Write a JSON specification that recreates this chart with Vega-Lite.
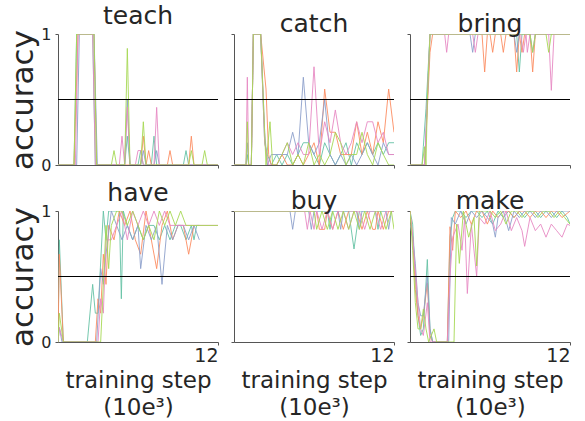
{
"$schema":"https://vega.github.io/schema/vega-lite/v6.json",
"padding":{"left":7,"top":4,"right":0,"bottom":0},
"config":{"view":{"stroke":null},"font":"DejaVu Sans",
"title":{"fontSize":25,"fontWeight":"normal","color":"#262626","offset":-3,"baseline":"alphabetic","frame":"group","font":"DejaVu Sans"},
"axis":{"grid":false,"domainColor":"#555","tickColor":"#555","labelColor":"#262626","titleColor":"#262626","tickSize":3,"titleFontWeight":"normal","labelFont":"DejaVu Sans","titleFont":"DejaVu Sans"}},
"data":{"values":[
{"p":"teach","s":"a","x":0,"y":0},{"p":"teach","s":"a","x":1.2,"y":0},{"p":"teach","s":"a","x":1.4,"y":1},{"p":"teach","s":"a","x":2.6,"y":1},{"p":"teach","s":"a","x":2.8,"y":0},{"p":"teach","s":"a","x":5,"y":0},{"p":"teach","s":"a","x":5.2,"y":0.22},{"p":"teach","s":"a","x":5.4,"y":0},{"p":"teach","s":"a","x":6,"y":0},{"p":"teach","s":"a","x":6.2,"y":0.11},{"p":"teach","s":"a","x":6.4,"y":0},{"p":"teach","s":"a","x":7,"y":0},{"p":"teach","s":"a","x":7.2,"y":0.22},{"p":"teach","s":"a","x":7.4,"y":0},{"p":"teach","s":"a","x":9.4,"y":0},{"p":"teach","s":"a","x":9.6,"y":0.11},{"p":"teach","s":"a","x":9.8,"y":0},{"p":"teach","s":"a","x":12,"y":0},
{"p":"teach","s":"b","x":0,"y":0},{"p":"teach","s":"b","x":1.2,"y":0},{"p":"teach","s":"b","x":1.5,"y":1},{"p":"teach","s":"b","x":2.7,"y":1},{"p":"teach","s":"b","x":2.9,"y":0},{"p":"teach","s":"b","x":6.2,"y":0},{"p":"teach","s":"b","x":6.4,"y":0.22},{"p":"teach","s":"b","x":6.6,"y":0},{"p":"teach","s":"b","x":6.8,"y":0.11},{"p":"teach","s":"b","x":7,"y":0},{"p":"teach","s":"b","x":8.2,"y":0},{"p":"teach","s":"b","x":8.4,"y":0.11},{"p":"teach","s":"b","x":8.6,"y":0},{"p":"teach","s":"b","x":9.8,"y":0},{"p":"teach","s":"b","x":10,"y":0.22},{"p":"teach","s":"b","x":10.2,"y":0},{"p":"teach","s":"b","x":12,"y":0},
{"p":"teach","s":"c","x":0,"y":0},{"p":"teach","s":"c","x":1.4,"y":0},{"p":"teach","s":"c","x":1.6,"y":1},{"p":"teach","s":"c","x":2.7,"y":1},{"p":"teach","s":"c","x":2.95,"y":0},{"p":"teach","s":"c","x":5,"y":0},{"p":"teach","s":"c","x":5.2,"y":0.5},{"p":"teach","s":"c","x":5.4,"y":0},{"p":"teach","s":"c","x":6.2,"y":0},{"p":"teach","s":"c","x":6.4,"y":0.11},{"p":"teach","s":"c","x":6.6,"y":0},{"p":"teach","s":"c","x":7.2,"y":0},{"p":"teach","s":"c","x":7.4,"y":0.11},{"p":"teach","s":"c","x":7.6,"y":0},{"p":"teach","s":"c","x":12,"y":0},
{"p":"teach","s":"d","x":0,"y":0},{"p":"teach","s":"d","x":1.3,"y":0},{"p":"teach","s":"d","x":1.5,"y":1},{"p":"teach","s":"d","x":2.6,"y":1},{"p":"teach","s":"d","x":2.8,"y":0},{"p":"teach","s":"d","x":4.6,"y":0},{"p":"teach","s":"d","x":4.8,"y":0.22},{"p":"teach","s":"d","x":5,"y":0},{"p":"teach","s":"d","x":5.2,"y":0.44},{"p":"teach","s":"d","x":5.4,"y":0},{"p":"teach","s":"d","x":5.8,"y":0},{"p":"teach","s":"d","x":6,"y":0.11},{"p":"teach","s":"d","x":6.2,"y":0.11},{"p":"teach","s":"d","x":6.4,"y":0},{"p":"teach","s":"d","x":7.2,"y":0},{"p":"teach","s":"d","x":7.4,"y":0.44},{"p":"teach","s":"d","x":7.6,"y":0},{"p":"teach","s":"d","x":12,"y":0},
{"p":"teach","s":"e","x":0,"y":0},{"p":"teach","s":"e","x":1.2,"y":0},{"p":"teach","s":"e","x":1.4,"y":1},{"p":"teach","s":"e","x":2.7,"y":1},{"p":"teach","s":"e","x":2.9,"y":0},{"p":"teach","s":"e","x":4,"y":0},{"p":"teach","s":"e","x":4.2,"y":0.11},{"p":"teach","s":"e","x":4.4,"y":0},{"p":"teach","s":"e","x":5,"y":0},{"p":"teach","s":"e","x":5.2,"y":0.89},{"p":"teach","s":"e","x":5.4,"y":0},{"p":"teach","s":"e","x":6.2,"y":0},{"p":"teach","s":"e","x":6.4,"y":0.33},{"p":"teach","s":"e","x":6.6,"y":0},{"p":"teach","s":"e","x":9.8,"y":0},{"p":"teach","s":"e","x":10,"y":0.11},{"p":"teach","s":"e","x":10.2,"y":0},{"p":"teach","s":"e","x":10.8,"y":0},{"p":"teach","s":"e","x":11,"y":0.11},{"p":"teach","s":"e","x":11.2,"y":0},{"p":"teach","s":"e","x":12,"y":0},

{"p":"catch","s":"a","x":0,"y":0},{"p":"catch","s":"a","x":0.9,"y":0},{"p":"catch","s":"a","x":1,"y":0.08},{"p":"catch","s":"a","x":1.1,"y":0},{"p":"catch","s":"a","x":1.3,"y":0},{"p":"catch","s":"a","x":1.45,"y":1},{"p":"catch","s":"a","x":2,"y":1},{"p":"catch","s":"a","x":2.3,"y":0.17},{"p":"catch","s":"a","x":2.5,"y":0.08},{"p":"catch","s":"a","x":2.8,"y":0},
{"p":"catch","s":"a","x":3.2,"y":0.08},{"p":"catch","s":"a","x":3.6,"y":0},{"p":"catch","s":"a","x":4,"y":0.08},{"p":"catch","s":"a","x":4.4,"y":0},{"p":"catch","s":"a","x":4.8,"y":0.08},{"p":"catch","s":"a","x":5.2,"y":0.17},{"p":"catch","s":"a","x":5.6,"y":0.17},{"p":"catch","s":"a","x":6,"y":0.08},{"p":"catch","s":"a","x":6.4,"y":0},{"p":"catch","s":"a","x":6.8,"y":0.17},{"p":"catch","s":"a","x":7.2,"y":0.08},{"p":"catch","s":"a","x":7.6,"y":0},{"p":"catch","s":"a","x":8,"y":0.08},{"p":"catch","s":"a","x":8.4,"y":0.17},{"p":"catch","s":"a","x":8.8,"y":0},{"p":"catch","s":"a","x":9.2,"y":0.17},{"p":"catch","s":"a","x":9.6,"y":0.08},{"p":"catch","s":"a","x":10,"y":0.17},{"p":"catch","s":"a","x":10.4,"y":0.08},{"p":"catch","s":"a","x":10.8,"y":0.17},{"p":"catch","s":"a","x":11.2,"y":0.08},{"p":"catch","s":"a","x":11.6,"y":0.17},{"p":"catch","s":"a","x":12,"y":0.17},
{"p":"catch","s":"b","x":0,"y":0},{"p":"catch","s":"b","x":1.3,"y":0},{"p":"catch","s":"b","x":1.45,"y":1},{"p":"catch","s":"b","x":2,"y":1},{"p":"catch","s":"b","x":2.4,"y":0.58},{"p":"catch","s":"b","x":2.6,"y":0.08},{"p":"catch","s":"b","x":2.8,"y":0},
{"p":"catch","s":"b","x":3.2,"y":0},{"p":"catch","s":"b","x":3.6,"y":0.08},{"p":"catch","s":"b","x":4,"y":0},{"p":"catch","s":"b","x":4.4,"y":0},{"p":"catch","s":"b","x":4.8,"y":0.08},{"p":"catch","s":"b","x":5.2,"y":0},{"p":"catch","s":"b","x":5.6,"y":0.08},{"p":"catch","s":"b","x":6,"y":0.17},{"p":"catch","s":"b","x":6.4,"y":0},{"p":"catch","s":"b","x":6.8,"y":0.58},{"p":"catch","s":"b","x":7.2,"y":0.25},{"p":"catch","s":"b","x":7.6,"y":0.25},{"p":"catch","s":"b","x":8,"y":0.08},{"p":"catch","s":"b","x":8.4,"y":0.08},{"p":"catch","s":"b","x":8.8,"y":0.08},{"p":"catch","s":"b","x":9.2,"y":0.33},{"p":"catch","s":"b","x":9.6,"y":0.08},{"p":"catch","s":"b","x":10,"y":0.25},{"p":"catch","s":"b","x":10.4,"y":0.08},{"p":"catch","s":"b","x":10.8,"y":0.33},{"p":"catch","s":"b","x":11.2,"y":0.17},{"p":"catch","s":"b","x":11.6,"y":0.58},{"p":"catch","s":"b","x":12,"y":0.25},
{"p":"catch","s":"c","x":0,"y":0},{"p":"catch","s":"c","x":0.9,"y":0},{"p":"catch","s":"c","x":1,"y":0.17},{"p":"catch","s":"c","x":1.1,"y":0},{"p":"catch","s":"c","x":1.3,"y":0},{"p":"catch","s":"c","x":1.45,"y":1},{"p":"catch","s":"c","x":2,"y":1},{"p":"catch","s":"c","x":2.3,"y":0.25},{"p":"catch","s":"c","x":2.5,"y":0},{"p":"catch","s":"c","x":2.8,"y":0.08},
{"p":"catch","s":"c","x":3.2,"y":0.08},{"p":"catch","s":"c","x":3.6,"y":0.08},{"p":"catch","s":"c","x":4,"y":0.08},{"p":"catch","s":"c","x":4.4,"y":0.25},{"p":"catch","s":"c","x":4.8,"y":0.08},{"p":"catch","s":"c","x":5.2,"y":0.67},{"p":"catch","s":"c","x":5.6,"y":0.17},{"p":"catch","s":"c","x":6,"y":0.08},{"p":"catch","s":"c","x":6.4,"y":0.17},{"p":"catch","s":"c","x":6.8,"y":0.5},{"p":"catch","s":"c","x":7.2,"y":0.08},{"p":"catch","s":"c","x":7.6,"y":0},{"p":"catch","s":"c","x":8,"y":0.08},{"p":"catch","s":"c","x":8.4,"y":0},{"p":"catch","s":"c","x":8.8,"y":0.08},{"p":"catch","s":"c","x":9.2,"y":0},{"p":"catch","s":"c","x":9.6,"y":0.08},{"p":"catch","s":"c","x":10,"y":0.17},{"p":"catch","s":"c","x":10.4,"y":0.08},{"p":"catch","s":"c","x":10.8,"y":0},{"p":"catch","s":"c","x":11.2,"y":0.17},{"p":"catch","s":"c","x":11.6,"y":0.08},{"p":"catch","s":"c","x":12,"y":0.08},
{"p":"catch","s":"d","x":0,"y":0},{"p":"catch","s":"d","x":0.9,"y":0},{"p":"catch","s":"d","x":1,"y":0.67},{"p":"catch","s":"d","x":1.1,"y":0},{"p":"catch","s":"d","x":1.3,"y":0},{"p":"catch","s":"d","x":1.45,"y":1},{"p":"catch","s":"d","x":2,"y":1},{"p":"catch","s":"d","x":2.3,"y":0.17},{"p":"catch","s":"d","x":2.6,"y":0},{"p":"catch","s":"d","x":2.8,"y":0},
{"p":"catch","s":"d","x":3.2,"y":0},{"p":"catch","s":"d","x":3.6,"y":0.08},{"p":"catch","s":"d","x":4,"y":0.17},{"p":"catch","s":"d","x":4.4,"y":0.08},{"p":"catch","s":"d","x":4.8,"y":0.17},{"p":"catch","s":"d","x":5.2,"y":0.08},{"p":"catch","s":"d","x":5.6,"y":0.08},{"p":"catch","s":"d","x":6,"y":0.75},{"p":"catch","s":"d","x":6.4,"y":0.08},{"p":"catch","s":"d","x":6.8,"y":0.33},{"p":"catch","s":"d","x":7.2,"y":0.17},{"p":"catch","s":"d","x":7.6,"y":0.42},{"p":"catch","s":"d","x":8,"y":0.17},{"p":"catch","s":"d","x":8.4,"y":0.08},{"p":"catch","s":"d","x":8.8,"y":0.17},{"p":"catch","s":"d","x":9.2,"y":0.33},{"p":"catch","s":"d","x":9.6,"y":0.17},{"p":"catch","s":"d","x":10,"y":0.33},{"p":"catch","s":"d","x":10.4,"y":0.33},{"p":"catch","s":"d","x":10.8,"y":0.17},{"p":"catch","s":"d","x":11.2,"y":0.25},{"p":"catch","s":"d","x":11.6,"y":0.08},{"p":"catch","s":"d","x":12,"y":0.08},
{"p":"catch","s":"e","x":0,"y":0},{"p":"catch","s":"e","x":0.9,"y":0},{"p":"catch","s":"e","x":1,"y":0.33},{"p":"catch","s":"e","x":1.1,"y":0},{"p":"catch","s":"e","x":1.3,"y":0},{"p":"catch","s":"e","x":1.45,"y":1},{"p":"catch","s":"e","x":2,"y":1},{"p":"catch","s":"e","x":2.4,"y":0},{"p":"catch","s":"e","x":2.7,"y":0.33},{"p":"catch","s":"e","x":2.9,"y":0},
{"p":"catch","s":"e","x":3.2,"y":0},{"p":"catch","s":"e","x":3.6,"y":0.08},{"p":"catch","s":"e","x":4,"y":0.17},{"p":"catch","s":"e","x":4.4,"y":0},{"p":"catch","s":"e","x":4.8,"y":0.08},{"p":"catch","s":"e","x":5.2,"y":0},{"p":"catch","s":"e","x":5.6,"y":0.17},{"p":"catch","s":"e","x":6,"y":0},{"p":"catch","s":"e","x":6.4,"y":0.08},{"p":"catch","s":"e","x":6.8,"y":0},{"p":"catch","s":"e","x":7.2,"y":0.08},{"p":"catch","s":"e","x":7.6,"y":0.25},{"p":"catch","s":"e","x":8,"y":0.17},{"p":"catch","s":"e","x":8.4,"y":0},{"p":"catch","s":"e","x":8.8,"y":0.08},{"p":"catch","s":"e","x":9.2,"y":0.08},{"p":"catch","s":"e","x":9.6,"y":0.25},{"p":"catch","s":"e","x":10,"y":0.08},{"p":"catch","s":"e","x":10.4,"y":0},{"p":"catch","s":"e","x":10.8,"y":0.17},{"p":"catch","s":"e","x":11.2,"y":0.08},{"p":"catch","s":"e","x":11.6,"y":0},{"p":"catch","s":"e","x":12,"y":0},

{"p":"bring","s":"a","x":0,"y":0},{"p":"bring","s":"a","x":0.9,"y":0},{"p":"bring","s":"a","x":1,"y":0.14},{"p":"bring","s":"a","x":1.2,"y":0.43},{"p":"bring","s":"a","x":1.5,"y":1},{"p":"bring","s":"a","x":8,"y":1},{"p":"bring","s":"a","x":8.2,"y":0.71},{"p":"bring","s":"a","x":8.4,"y":1},{"p":"bring","s":"a","x":12,"y":1},
{"p":"bring","s":"b","x":0,"y":0},{"p":"bring","s":"b","x":1.1,"y":0},{"p":"bring","s":"b","x":1.5,"y":0.86},{"p":"bring","s":"b","x":1.7,"y":1},{"p":"bring","s":"b","x":5.4,"y":1},{"p":"bring","s":"b","x":5.6,"y":0.71},{"p":"bring","s":"b","x":5.8,"y":1},{"p":"bring","s":"b","x":6,"y":1},{"p":"bring","s":"b","x":6.2,"y":0.86},{"p":"bring","s":"b","x":6.4,"y":1},{"p":"bring","s":"b","x":6.8,"y":1},{"p":"bring","s":"b","x":7,"y":0.86},{"p":"bring","s":"b","x":7.2,"y":1},{"p":"bring","s":"b","x":7.8,"y":1},{"p":"bring","s":"b","x":8,"y":0.71},{"p":"bring","s":"b","x":8.2,"y":1},{"p":"bring","s":"b","x":8.4,"y":0.86},{"p":"bring","s":"b","x":8.6,"y":1},{"p":"bring","s":"b","x":9,"y":1},{"p":"bring","s":"b","x":9.2,"y":0.71},{"p":"bring","s":"b","x":9.4,"y":1},{"p":"bring","s":"b","x":12,"y":1},
{"p":"bring","s":"c","x":0,"y":0},{"p":"bring","s":"c","x":1.1,"y":0},{"p":"bring","s":"c","x":1.5,"y":1},{"p":"bring","s":"c","x":4.5,"y":1},{"p":"bring","s":"c","x":4.7,"y":0.86},{"p":"bring","s":"c","x":4.9,"y":1},{"p":"bring","s":"c","x":7.8,"y":1},{"p":"bring","s":"c","x":8,"y":0.86},{"p":"bring","s":"c","x":8.2,"y":1},{"p":"bring","s":"c","x":9,"y":1},{"p":"bring","s":"c","x":9.2,"y":0.86},{"p":"bring","s":"c","x":9.4,"y":1},{"p":"bring","s":"c","x":12,"y":1},
{"p":"bring","s":"d","x":0,"y":0},{"p":"bring","s":"d","x":1.1,"y":0},{"p":"bring","s":"d","x":1.5,"y":1},{"p":"bring","s":"d","x":2.6,"y":1},{"p":"bring","s":"d","x":2.75,"y":0.86},{"p":"bring","s":"d","x":2.9,"y":1},{"p":"bring","s":"d","x":4.7,"y":1},{"p":"bring","s":"d","x":4.9,"y":0.86},{"p":"bring","s":"d","x":5.1,"y":1},{"p":"bring","s":"d","x":8.3,"y":1},{"p":"bring","s":"d","x":8.5,"y":0.86},{"p":"bring","s":"d","x":8.7,"y":1},{"p":"bring","s":"d","x":8.8,"y":0.86},{"p":"bring","s":"d","x":9,"y":1},{"p":"bring","s":"d","x":10.4,"y":1},{"p":"bring","s":"d","x":10.6,"y":0.57},{"p":"bring","s":"d","x":10.8,"y":1},{"p":"bring","s":"d","x":12,"y":1},
{"p":"bring","s":"e","x":0,"y":0},{"p":"bring","s":"e","x":0.9,"y":0},{"p":"bring","s":"e","x":1.1,"y":0.14},{"p":"bring","s":"e","x":1.2,"y":0},{"p":"bring","s":"e","x":1.3,"y":0.5},{"p":"bring","s":"e","x":1.5,"y":1},{"p":"bring","s":"e","x":9,"y":1},{"p":"bring","s":"e","x":9.2,"y":0.86},{"p":"bring","s":"e","x":9.4,"y":1},{"p":"bring","s":"e","x":10.2,"y":1},{"p":"bring","s":"e","x":10.4,"y":0.86},{"p":"bring","s":"e","x":10.6,"y":1},{"p":"bring","s":"e","x":12,"y":1},

{"p":"have","s":"a","x":0,"y":0},{"p":"have","s":"a","x":0.1,"y":0.78},{"p":"have","s":"a","x":0.4,"y":0},{"p":"have","s":"a","x":2.2,"y":0},{"p":"have","s":"a","x":2.6,"y":0.44},{"p":"have","s":"a","x":2.8,"y":0.22},{"p":"have","s":"a","x":3,"y":0.22},{"p":"have","s":"a","x":3.4,"y":1},{"p":"have","s":"a","x":3.6,"y":0.78},{"p":"have","s":"a","x":3.8,"y":1},{"p":"have","s":"a","x":4.2,"y":1},{"p":"have","s":"a","x":4.6,"y":1},{"p":"have","s":"a","x":4.75,"y":0.33},{"p":"have","s":"a","x":4.9,"y":1},{"p":"have","s":"a","x":5.2,"y":0.89},{"p":"have","s":"a","x":5.6,"y":0.78},{"p":"have","s":"a","x":6,"y":0.89},{"p":"have","s":"a","x":6.4,"y":0.78},{"p":"have","s":"a","x":6.8,"y":0.89},{"p":"have","s":"a","x":7.2,"y":0.89},{"p":"have","s":"a","x":7.6,"y":0.78},{"p":"have","s":"a","x":8,"y":0.89},{"p":"have","s":"a","x":8.4,"y":0.78},{"p":"have","s":"a","x":8.8,"y":0.89},{"p":"have","s":"a","x":9.2,"y":0.89},{"p":"have","s":"a","x":9.6,"y":0.78},{"p":"have","s":"a","x":10,"y":0.89},{"p":"have","s":"a","x":10.2,"y":0.78},{"p":"have","s":"a","x":10.4,"y":0.89},{"p":"have","s":"a","x":10.6,"y":0.89},
{"p":"have","s":"b","x":0,"y":0},{"p":"have","s":"b","x":0.1,"y":0.67},{"p":"have","s":"b","x":0.4,"y":0},{"p":"have","s":"b","x":2.8,"y":0},{"p":"have","s":"b","x":3,"y":0.33},{"p":"have","s":"b","x":3.2,"y":0.22},{"p":"have","s":"b","x":3.4,"y":0.67},{"p":"have","s":"b","x":3.6,"y":0.44},{"p":"have","s":"b","x":3.8,"y":0.89},{"p":"have","s":"b","x":4.2,"y":0.78},{"p":"have","s":"b","x":4.6,"y":1},{"p":"have","s":"b","x":5,"y":0.89},{"p":"have","s":"b","x":5.4,"y":1},{"p":"have","s":"b","x":5.8,"y":0.78},{"p":"have","s":"b","x":6.2,"y":0.67},{"p":"have","s":"b","x":6.6,"y":1},{"p":"have","s":"b","x":7,"y":0.78},{"p":"have","s":"b","x":7.4,"y":0.56},{"p":"have","s":"b","x":7.8,"y":0.89},{"p":"have","s":"b","x":8.2,"y":1},{"p":"have","s":"b","x":8.6,"y":0.78},{"p":"have","s":"b","x":9,"y":0.89},{"p":"have","s":"b","x":9.4,"y":0.89},{"p":"have","s":"b","x":9.8,"y":0.67},{"p":"have","s":"b","x":10.2,"y":0.89},
{"p":"have","s":"c","x":0,"y":0},{"p":"have","s":"c","x":0.1,"y":0.11},{"p":"have","s":"c","x":0.3,"y":0},{"p":"have","s":"c","x":2.9,"y":0},{"p":"have","s":"c","x":3.2,"y":0.56},{"p":"have","s":"c","x":3.4,"y":0.44},{"p":"have","s":"c","x":3.6,"y":0.67},{"p":"have","s":"c","x":4,"y":1},{"p":"have","s":"c","x":4.4,"y":0.89},{"p":"have","s":"c","x":4.8,"y":0.78},{"p":"have","s":"c","x":5.2,"y":0.89},{"p":"have","s":"c","x":5.6,"y":0.78},{"p":"have","s":"c","x":6,"y":0.89},{"p":"have","s":"c","x":6.2,"y":0.56},{"p":"have","s":"c","x":6.6,"y":0.89},{"p":"have","s":"c","x":7,"y":0.78},{"p":"have","s":"c","x":7.4,"y":0.89},{"p":"have","s":"c","x":7.8,"y":0.44},{"p":"have","s":"c","x":8.2,"y":0.89},{"p":"have","s":"c","x":8.6,"y":0.78},{"p":"have","s":"c","x":9,"y":0.89},{"p":"have","s":"c","x":9.4,"y":0.89},{"p":"have","s":"c","x":9.8,"y":0.78},{"p":"have","s":"c","x":10.2,"y":0.89},{"p":"have","s":"c","x":10.6,"y":0.78},
{"p":"have","s":"d","x":0,"y":0},{"p":"have","s":"d","x":0.1,"y":0.11},{"p":"have","s":"d","x":0.4,"y":0},{"p":"have","s":"d","x":3,"y":0},{"p":"have","s":"d","x":3.2,"y":0.33},{"p":"have","s":"d","x":3.4,"y":0.22},{"p":"have","s":"d","x":3.6,"y":0.78},{"p":"have","s":"d","x":4,"y":0.78},{"p":"have","s":"d","x":4.4,"y":0.89},{"p":"have","s":"d","x":4.8,"y":1},{"p":"have","s":"d","x":5.2,"y":0.78},{"p":"have","s":"d","x":5.6,"y":1},{"p":"have","s":"d","x":6,"y":0.89},{"p":"have","s":"d","x":6.4,"y":1},{"p":"have","s":"d","x":6.8,"y":0.89},{"p":"have","s":"d","x":7.2,"y":1},{"p":"have","s":"d","x":7.6,"y":0.89},{"p":"have","s":"d","x":8,"y":1},{"p":"have","s":"d","x":8.4,"y":0.89},{"p":"have","s":"d","x":12,"y":0.89},
{"p":"have","s":"e","x":0,"y":0},{"p":"have","s":"e","x":0.1,"y":0.22},{"p":"have","s":"e","x":0.4,"y":0},{"p":"have","s":"e","x":3.2,"y":0},{"p":"have","s":"e","x":3.4,"y":0.44},{"p":"have","s":"e","x":3.6,"y":0.89},{"p":"have","s":"e","x":3.8,"y":0.56},{"p":"have","s":"e","x":4,"y":0.89},{"p":"have","s":"e","x":4.4,"y":1},{"p":"have","s":"e","x":4.8,"y":1},{"p":"have","s":"e","x":5.2,"y":0.89},{"p":"have","s":"e","x":5.6,"y":1},{"p":"have","s":"e","x":6,"y":0.89},{"p":"have","s":"e","x":6.4,"y":0.78},{"p":"have","s":"e","x":6.8,"y":0.89},{"p":"have","s":"e","x":7.2,"y":0.78},{"p":"have","s":"e","x":7.6,"y":1},{"p":"have","s":"e","x":8,"y":0.89},{"p":"have","s":"e","x":8.4,"y":1},{"p":"have","s":"e","x":8.8,"y":0.89},{"p":"have","s":"e","x":9.2,"y":1},{"p":"have","s":"e","x":9.6,"y":0.89},{"p":"have","s":"e","x":12,"y":0.89},

{"p":"buy","s":"a","x":0,"y":1},{"p":"buy","s":"a","x":7,"y":1},{"p":"buy","s":"a","x":7.2,"y":0.86},{"p":"buy","s":"a","x":7.4,"y":1},{"p":"buy","s":"a","x":8.6,"y":1},{"p":"buy","s":"a","x":9,"y":0.71},{"p":"buy","s":"a","x":9.4,"y":1},{"p":"buy","s":"a","x":10.6,"y":1},{"p":"buy","s":"a","x":10.8,"y":0.86},{"p":"buy","s":"a","x":11,"y":1},{"p":"buy","s":"a","x":12,"y":1},
{"p":"buy","s":"b","x":0,"y":1},{"p":"buy","s":"b","x":6.2,"y":1},{"p":"buy","s":"b","x":6.4,"y":0.86},{"p":"buy","s":"b","x":6.8,"y":0.86},{"p":"buy","s":"b","x":7,"y":1},{"p":"buy","s":"b","x":7.4,"y":0.86},{"p":"buy","s":"b","x":7.8,"y":1},{"p":"buy","s":"b","x":8.2,"y":0.86},{"p":"buy","s":"b","x":8.6,"y":1},{"p":"buy","s":"b","x":9.2,"y":1},{"p":"buy","s":"b","x":9.6,"y":0.86},{"p":"buy","s":"b","x":10,"y":1},{"p":"buy","s":"b","x":10.4,"y":0.86},{"p":"buy","s":"b","x":10.6,"y":0.86},{"p":"buy","s":"b","x":10.8,"y":1},{"p":"buy","s":"b","x":11.2,"y":0.86},{"p":"buy","s":"b","x":11.6,"y":1},{"p":"buy","s":"b","x":12,"y":1},
{"p":"buy","s":"c","x":0,"y":1},{"p":"buy","s":"c","x":4.2,"y":1},{"p":"buy","s":"c","x":4.4,"y":0.86},{"p":"buy","s":"c","x":4.6,"y":1},{"p":"buy","s":"c","x":5.6,"y":1},{"p":"buy","s":"c","x":5.8,"y":0.86},{"p":"buy","s":"c","x":6,"y":1},{"p":"buy","s":"c","x":7.8,"y":1},{"p":"buy","s":"c","x":8,"y":0.86},{"p":"buy","s":"c","x":8.2,"y":1},{"p":"buy","s":"c","x":9.2,"y":1},{"p":"buy","s":"c","x":9.4,"y":0.86},{"p":"buy","s":"c","x":9.6,"y":1},{"p":"buy","s":"c","x":11.4,"y":1},{"p":"buy","s":"c","x":11.6,"y":0.86},{"p":"buy","s":"c","x":11.8,"y":1},{"p":"buy","s":"c","x":12,"y":1},
{"p":"buy","s":"d","x":0,"y":1},{"p":"buy","s":"d","x":5.3,"y":1},{"p":"buy","s":"d","x":5.5,"y":0.86},{"p":"buy","s":"d","x":5.7,"y":1},{"p":"buy","s":"d","x":6,"y":0.86},{"p":"buy","s":"d","x":6.2,"y":1},{"p":"buy","s":"d","x":6.6,"y":0.86},{"p":"buy","s":"d","x":7,"y":1},{"p":"buy","s":"d","x":7.4,"y":0.86},{"p":"buy","s":"d","x":7.8,"y":1},{"p":"buy","s":"d","x":8.2,"y":1},{"p":"buy","s":"d","x":8.6,"y":0.86},{"p":"buy","s":"d","x":9,"y":1},{"p":"buy","s":"d","x":9.4,"y":1},{"p":"buy","s":"d","x":9.8,"y":0.86},{"p":"buy","s":"d","x":10.2,"y":1},{"p":"buy","s":"d","x":10.6,"y":1},{"p":"buy","s":"d","x":11,"y":0.86},{"p":"buy","s":"d","x":11.4,"y":1},{"p":"buy","s":"d","x":12,"y":1},
{"p":"buy","s":"e","x":0,"y":1},{"p":"buy","s":"e","x":6,"y":1},{"p":"buy","s":"e","x":6.2,"y":0.86},{"p":"buy","s":"e","x":6.6,"y":1},{"p":"buy","s":"e","x":7,"y":0.86},{"p":"buy","s":"e","x":7.4,"y":1},{"p":"buy","s":"e","x":7.8,"y":0.86},{"p":"buy","s":"e","x":8.2,"y":1},{"p":"buy","s":"e","x":8.6,"y":0.86},{"p":"buy","s":"e","x":9,"y":1},{"p":"buy","s":"e","x":9.4,"y":0.86},{"p":"buy","s":"e","x":9.8,"y":1},{"p":"buy","s":"e","x":10.2,"y":0.86},{"p":"buy","s":"e","x":10.6,"y":1},{"p":"buy","s":"e","x":11,"y":1},{"p":"buy","s":"e","x":11.4,"y":0.86},{"p":"buy","s":"e","x":11.8,"y":1},{"p":"buy","s":"e","x":12,"y":0.86},

{"p":"make","s":"a","x":0,"y":1},{"p":"make","s":"a","x":0.2,"y":0.9},{"p":"make","s":"a","x":0.4,"y":0.5},{"p":"make","s":"a","x":0.6,"y":0.2},{"p":"make","s":"a","x":0.8,"y":0.05},{"p":"make","s":"a","x":1,"y":0.1},{"p":"make","s":"a","x":1.3,"y":0.63},{"p":"make","s":"a","x":1.5,"y":0.1},{"p":"make","s":"a","x":1.7,"y":0},{"p":"make","s":"a","x":2.8,"y":0},{"p":"make","s":"a","x":3,"y":0.8},{"p":"make","s":"a","x":3.2,"y":0.95},{"p":"make","s":"a","x":3.4,"y":1},{"p":"make","s":"a","x":3.8,"y":1},{"p":"make","s":"a","x":4.2,"y":0.95},{"p":"make","s":"a","x":4.6,"y":1},{"p":"make","s":"a","x":5,"y":1},{"p":"make","s":"a","x":5.4,"y":0.95},{"p":"make","s":"a","x":5.8,"y":1},{"p":"make","s":"a","x":6.2,"y":0.9},{"p":"make","s":"a","x":6.6,"y":1},{"p":"make","s":"a","x":7,"y":0.95},{"p":"make","s":"a","x":7.4,"y":1},{"p":"make","s":"a","x":7.8,"y":0.95},{"p":"make","s":"a","x":8.2,"y":1},{"p":"make","s":"a","x":8.6,"y":0.95},{"p":"make","s":"a","x":9,"y":1},{"p":"make","s":"a","x":9.4,"y":1},{"p":"make","s":"a","x":9.8,"y":0.95},{"p":"make","s":"a","x":10.2,"y":1},{"p":"make","s":"a","x":10.6,"y":1},{"p":"make","s":"a","x":11,"y":0.95},{"p":"make","s":"a","x":11.4,"y":1},{"p":"make","s":"a","x":11.8,"y":0.95},{"p":"make","s":"a","x":12,"y":0.9},
{"p":"make","s":"b","x":0,"y":1},{"p":"make","s":"b","x":0.2,"y":0.8},{"p":"make","s":"b","x":0.4,"y":0.4},{"p":"make","s":"b","x":0.6,"y":0.2},{"p":"make","s":"b","x":0.8,"y":0.1},{"p":"make","s":"b","x":1,"y":0.2},{"p":"make","s":"b","x":1.3,"y":0.45},{"p":"make","s":"b","x":1.5,"y":0.05},{"p":"make","s":"b","x":1.7,"y":0},{"p":"make","s":"b","x":2.8,"y":0},{"p":"make","s":"b","x":3,"y":0.88},{"p":"make","s":"b","x":3.2,"y":0.7},{"p":"make","s":"b","x":3.4,"y":1},{"p":"make","s":"b","x":3.8,"y":0.95},{"p":"make","s":"b","x":4.2,"y":1},{"p":"make","s":"b","x":4.6,"y":0.9},{"p":"make","s":"b","x":5,"y":1},{"p":"make","s":"b","x":5.4,"y":1},{"p":"make","s":"b","x":5.8,"y":0.9},{"p":"make","s":"b","x":6.2,"y":1},{"p":"make","s":"b","x":6.6,"y":0.95},{"p":"make","s":"b","x":7,"y":1},{"p":"make","s":"b","x":7.4,"y":1},{"p":"make","s":"b","x":7.8,"y":0.95},{"p":"make","s":"b","x":8.2,"y":1},{"p":"make","s":"b","x":8.6,"y":1},{"p":"make","s":"b","x":9,"y":0.95},{"p":"make","s":"b","x":9.4,"y":1},{"p":"make","s":"b","x":9.8,"y":1},{"p":"make","s":"b","x":10.2,"y":0.95},{"p":"make","s":"b","x":10.6,"y":1},{"p":"make","s":"b","x":11,"y":1},{"p":"make","s":"b","x":11.4,"y":0.95},{"p":"make","s":"b","x":12,"y":1},
{"p":"make","s":"c","x":0,"y":0.9},{"p":"make","s":"c","x":0.2,"y":0.8},{"p":"make","s":"c","x":0.4,"y":0.6},{"p":"make","s":"c","x":0.6,"y":0.3},{"p":"make","s":"c","x":0.8,"y":0.2},{"p":"make","s":"c","x":1,"y":0.2},{"p":"make","s":"c","x":1.3,"y":0.5},{"p":"make","s":"c","x":1.5,"y":0.1},{"p":"make","s":"c","x":1.7,"y":0},{"p":"make","s":"c","x":2.9,"y":0},{"p":"make","s":"c","x":3.1,"y":0.95},{"p":"make","s":"c","x":3.4,"y":0.9},{"p":"make","s":"c","x":3.8,"y":1},{"p":"make","s":"c","x":4.2,"y":0.9},{"p":"make","s":"c","x":4.6,"y":1},{"p":"make","s":"c","x":5,"y":0.95},{"p":"make","s":"c","x":5.4,"y":1},{"p":"make","s":"c","x":5.8,"y":0.95},{"p":"make","s":"c","x":6.2,"y":0.9},{"p":"make","s":"c","x":6.4,"y":0.8},{"p":"make","s":"c","x":6.6,"y":0.95},{"p":"make","s":"c","x":7,"y":1},{"p":"make","s":"c","x":7.4,"y":0.85},{"p":"make","s":"c","x":7.8,"y":1},{"p":"make","s":"c","x":8.2,"y":0.95},{"p":"make","s":"c","x":8.6,"y":1},{"p":"make","s":"c","x":9,"y":1},{"p":"make","s":"c","x":9.4,"y":0.95},{"p":"make","s":"c","x":9.8,"y":1},{"p":"make","s":"c","x":10.2,"y":1},{"p":"make","s":"c","x":10.6,"y":0.95},{"p":"make","s":"c","x":11,"y":1},{"p":"make","s":"c","x":12,"y":1},
{"p":"make","s":"d","x":0,"y":1},{"p":"make","s":"d","x":0.2,"y":0.8},{"p":"make","s":"d","x":0.35,"y":0.6},{"p":"make","s":"d","x":0.6,"y":0.3},{"p":"make","s":"d","x":0.8,"y":0.1},{"p":"make","s":"d","x":1,"y":0.05},{"p":"make","s":"d","x":1.3,"y":0.3},{"p":"make","s":"d","x":1.5,"y":0},{"p":"make","s":"d","x":2.8,"y":0},{"p":"make","s":"d","x":3,"y":0.5},{"p":"make","s":"d","x":3.2,"y":0.8},{"p":"make","s":"d","x":3.6,"y":0.9},{"p":"make","s":"d","x":3.9,"y":0.7},{"p":"make","s":"d","x":4.1,"y":0.95},{"p":"make","s":"d","x":4.3,"y":0.37},{"p":"make","s":"d","x":4.6,"y":0.9},{"p":"make","s":"d","x":5,"y":0.5},{"p":"make","s":"d","x":5.2,"y":0.95},{"p":"make","s":"d","x":5.6,"y":0.9},{"p":"make","s":"d","x":6,"y":1},{"p":"make","s":"d","x":6.4,"y":0.85},{"p":"make","s":"d","x":6.8,"y":0.9},{"p":"make","s":"d","x":7.2,"y":1},{"p":"make","s":"d","x":7.6,"y":0.85},{"p":"make","s":"d","x":8,"y":0.95},{"p":"make","s":"d","x":8.4,"y":0.85},{"p":"make","s":"d","x":8.6,"y":0.73},{"p":"make","s":"d","x":9,"y":0.95},{"p":"make","s":"d","x":9.4,"y":0.85},{"p":"make","s":"d","x":9.8,"y":0.9},{"p":"make","s":"d","x":10.2,"y":0.8},{"p":"make","s":"d","x":10.6,"y":0.9},{"p":"make","s":"d","x":11,"y":0.85},{"p":"make","s":"d","x":11.4,"y":0.8},{"p":"make","s":"d","x":11.8,"y":0.9},{"p":"make","s":"d","x":12,"y":0.89},
{"p":"make","s":"e","x":0,"y":1},{"p":"make","s":"e","x":0.2,"y":0.7},{"p":"make","s":"e","x":0.4,"y":0.3},{"p":"make","s":"e","x":0.6,"y":0.1},{"p":"make","s":"e","x":0.8,"y":0.1},{"p":"make","s":"e","x":1,"y":0.25},{"p":"make","s":"e","x":1.2,"y":0.1},{"p":"make","s":"e","x":1.4,"y":0},{"p":"make","s":"e","x":1.8,"y":0.1},{"p":"make","s":"e","x":2,"y":0},{"p":"make","s":"e","x":3.3,"y":0},{"p":"make","s":"e","x":3.5,"y":0.9},{"p":"make","s":"e","x":3.7,"y":0.6},{"p":"make","s":"e","x":4,"y":1},{"p":"make","s":"e","x":4.4,"y":0.8},{"p":"make","s":"e","x":4.8,"y":0.95},{"p":"make","s":"e","x":5,"y":0.58},{"p":"make","s":"e","x":5.2,"y":1},{"p":"make","s":"e","x":5.6,"y":1},{"p":"make","s":"e","x":6,"y":1},{"p":"make","s":"e","x":6.4,"y":0.95},{"p":"make","s":"e","x":6.8,"y":1},{"p":"make","s":"e","x":7.2,"y":0.9},{"p":"make","s":"e","x":7.6,"y":1},{"p":"make","s":"e","x":8,"y":1},{"p":"make","s":"e","x":8.4,"y":0.95},{"p":"make","s":"e","x":8.8,"y":1},{"p":"make","s":"e","x":9.2,"y":1},{"p":"make","s":"e","x":9.6,"y":0.95},{"p":"make","s":"e","x":10,"y":1},{"p":"make","s":"e","x":10.4,"y":1},{"p":"make","s":"e","x":10.8,"y":0.95},{"p":"make","s":"e","x":11.2,"y":1},{"p":"make","s":"e","x":11.6,"y":0.95},{"p":"make","s":"e","x":12,"y":0.9}
]},
"columns":3,
"spacing":{"row":46,"column":16},
"bounds":"flush",
"concat":[
{"title":"teach","width":160,"height":131,"transform":[{"filter":"datum.p=='teach'"}],"layer":[
{"mark":{"type":"line","strokeWidth":1,"clip":true,"opacity":0.9},"encoding":{"x":{"field":"x","type":"quantitative","scale":{"domain":[0,12],"nice":false},"axis":{"values":[12],"labels":false,"title":null}},"y":{"field":"y","type":"quantitative","scale":{"domain":[0,1],"nice":false},"axis":{"values":[0,1],"format":"d","labelFontSize":16,"labelPadding":4,"title":"accuracy","titleFontSize":31,"titlePadding":1}},"color":{"field":"s","type":"nominal","scale":{"domain":["a","b","c","d","e"],"range":["#66c2a5","#fc8d62","#8da0cb","#e78ac3","#a6d854"]},"legend":null}}},
{"mark":{"type":"rule","color":"black","strokeWidth":1},"encoding":{"y":{"datum":0.5}}}]},
{"title":"catch","width":160,"height":131,"transform":[{"filter":"datum.p=='catch'"}],"layer":[
{"mark":{"type":"line","strokeWidth":1,"clip":true,"opacity":0.9},"encoding":{"x":{"field":"x","type":"quantitative","scale":{"domain":[0,12],"nice":false},"axis":{"values":[12],"labels":false,"title":null}},"y":{"field":"y","type":"quantitative","scale":{"domain":[0,1],"nice":false},"axis":{"values":[0,1],"labels":false,"title":null}},"color":{"field":"s","type":"nominal","scale":{"domain":["a","b","c","d","e"],"range":["#66c2a5","#fc8d62","#8da0cb","#e78ac3","#a6d854"]},"legend":null}}},
{"mark":{"type":"rule","color":"black","strokeWidth":1},"encoding":{"y":{"datum":0.5}}}]},
{"title":"bring","width":160,"height":131,"transform":[{"filter":"datum.p=='bring'"}],"layer":[
{"mark":{"type":"line","strokeWidth":1,"clip":true,"opacity":0.9},"encoding":{"x":{"field":"x","type":"quantitative","scale":{"domain":[0,12],"nice":false},"axis":{"values":[12],"labels":false,"title":null}},"y":{"field":"y","type":"quantitative","scale":{"domain":[0,1],"nice":false},"axis":{"values":[0,1],"labels":false,"title":null}},"color":{"field":"s","type":"nominal","scale":{"domain":["a","b","c","d","e"],"range":["#66c2a5","#fc8d62","#8da0cb","#e78ac3","#a6d854"]},"legend":null}}},
{"mark":{"type":"rule","color":"black","strokeWidth":1},"encoding":{"y":{"datum":0.5}}}]},
{"title":"have","width":160,"height":131,"transform":[{"filter":"datum.p=='have'"}],"layer":[
{"mark":{"type":"line","strokeWidth":1,"clip":true,"opacity":0.9},"encoding":{"x":{"field":"x","type":"quantitative","scale":{"domain":[0,12],"nice":false},"axis":{"values":[12],"format":"d","labelFontSize":19,"labelPadding":1,"title":["training step","(10e³)"],"titleFontSize":23,"titleLineHeight":27,"titlePadding":4}},"y":{"field":"y","type":"quantitative","scale":{"domain":[0,1],"nice":false},"axis":{"values":[0,1],"format":"d","labelFontSize":16,"labelPadding":4,"title":"accuracy","titleFontSize":31,"titlePadding":1}},"color":{"field":"s","type":"nominal","scale":{"domain":["a","b","c","d","e"],"range":["#66c2a5","#fc8d62","#8da0cb","#e78ac3","#a6d854"]},"legend":null}}},
{"mark":{"type":"rule","color":"black","strokeWidth":1},"encoding":{"y":{"datum":0.5}}}]},
{"title":"buy","width":160,"height":131,"transform":[{"filter":"datum.p=='buy'"}],"layer":[
{"mark":{"type":"line","strokeWidth":1,"clip":true,"opacity":0.9},"encoding":{"x":{"field":"x","type":"quantitative","scale":{"domain":[0,12],"nice":false},"axis":{"values":[12],"format":"d","labelFontSize":19,"labelPadding":1,"title":["training step","(10e³)"],"titleFontSize":23,"titleLineHeight":27,"titlePadding":4}},"y":{"field":"y","type":"quantitative","scale":{"domain":[0,1],"nice":false},"axis":{"values":[0,1],"labels":false,"title":null}},"color":{"field":"s","type":"nominal","scale":{"domain":["a","b","c","d","e"],"range":["#66c2a5","#fc8d62","#8da0cb","#e78ac3","#a6d854"]},"legend":null}}},
{"mark":{"type":"rule","color":"black","strokeWidth":1},"encoding":{"y":{"datum":0.5}}}]},
{"title":"make","width":160,"height":131,"transform":[{"filter":"datum.p=='make'"}],"layer":[
{"mark":{"type":"line","strokeWidth":1,"clip":true,"opacity":0.9},"encoding":{"x":{"field":"x","type":"quantitative","scale":{"domain":[0,12],"nice":false},"axis":{"values":[12],"format":"d","labelFontSize":19,"labelPadding":1,"title":["training step","(10e³)"],"titleFontSize":23,"titleLineHeight":27,"titlePadding":4}},"y":{"field":"y","type":"quantitative","scale":{"domain":[0,1],"nice":false},"axis":{"values":[0,1],"labels":false,"title":null}},"color":{"field":"s","type":"nominal","scale":{"domain":["a","b","c","d","e"],"range":["#66c2a5","#fc8d62","#8da0cb","#e78ac3","#a6d854"]},"legend":null}}},
{"mark":{"type":"rule","color":"black","strokeWidth":1},"encoding":{"y":{"datum":0.5}}}]}
]
}
